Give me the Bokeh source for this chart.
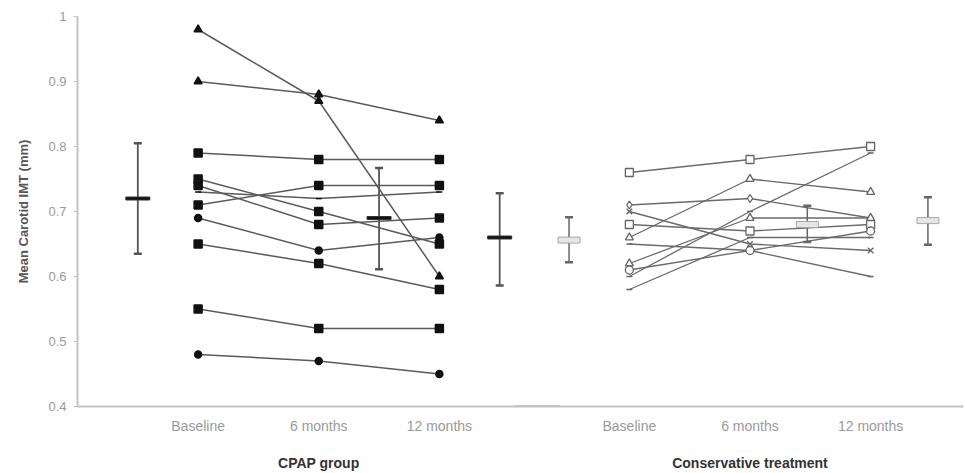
from bokeh.plotting import figure
from bokeh.models import Range1d, FixedTicker, LinearAxis
from bokeh.embed import file_html
from bokeh.resources import INLINE

# ---- data ----
timepoints = ["Baseline", "6 months", "12 months"]
groups = ["CPAP group", "Conservative treatment"]

cpap_x = [2, 4, 6]
cons_x = [9.15, 11.15, 13.15]
cpap_mean_x = [1, 5, 7]
cons_mean_x = [8.15, 12.1, 14.1]
group_x = [4, 11.15]

cpap_series = [
    [0.98, 0.87, 0.60],
    [0.90, 0.88, 0.84],
    [0.79, 0.78, 0.78],
    [0.75, 0.70, 0.65],
    [0.74, 0.68, 0.69],
    [0.73, 0.72, 0.73],
    [0.71, 0.74, 0.74],
    [0.69, 0.64, 0.66],
    [0.65, 0.62, 0.58],
    [0.55, 0.52, 0.52],
    [0.48, 0.47, 0.45],
]
cpap_markers = ["triangle", "triangle", "square", "square", "square", "dash",
                "square", "circle", "square", "square", "circle"]

cons_series = [
    [0.76, 0.78, 0.80],
    [0.71, 0.72, 0.69],
    [0.70, 0.65, 0.64],
    [0.68, 0.67, 0.68],
    [0.66, 0.75, 0.73],
    [0.65, 0.64, 0.60],
    [0.62, 0.69, 0.69],
    [0.61, 0.64, 0.67],
    [0.60, 0.70, 0.79],
    [0.58, 0.66, 0.66],
]
cons_markers = ["square", "diamond", "x", "square", "triangle", "dash",
                "triangle", "circle", "dash", "dash"]

cpap_mean = [0.72, 0.69, 0.66]
cpap_lo = [0.635, 0.611, 0.586]
cpap_hi = [0.805, 0.767, 0.728]

cons_mean = [0.656, 0.68, 0.686]
cons_lo = [0.622, 0.653, 0.649]
cons_hi = [0.691, 0.709, 0.722]

y_ticks = [0.4, 0.5, 0.6, 0.7, 0.8, 0.9, 1.0]

# ---- figure ----
FONT = "Liberation Sans"
p = figure(width=965, height=473, output_backend="svg", toolbar_location=None,
           x_range=Range1d(0, 14.69), y_range=Range1d(0.4, 1.0),
           min_border_left=77, min_border_right=2, min_border_top=16,
           min_border_bottom=67)
p.outline_line_color = None
p.grid.grid_line_color = None
p.background_fill_color = "white"

# y axis
p.yaxis.ticker = FixedTicker(ticks=y_ticks)
p.yaxis.major_label_overrides = {1.0: "1"}
p.yaxis.axis_line_color = "#c4c4c4"
p.yaxis.axis_line_width = 2
p.yaxis.major_tick_line_color = "#c4c4c4"
p.yaxis.major_tick_in = 0
p.yaxis.major_tick_out = 4
p.yaxis.minor_tick_line_color = None
p.yaxis.major_label_text_color = "#9a9a9a"
p.yaxis.major_label_text_font = FONT
p.yaxis.major_label_text_font_size = "13px"
p.yaxis.major_label_standoff = 7
p.yaxis.axis_label = "Mean Carotid IMT (mm)"
p.yaxis.axis_label_text_font = FONT
p.yaxis.axis_label_text_font_style = "bold"
p.yaxis.axis_label_text_font_size = "13px"
p.yaxis.axis_label_text_color = "#555555"
p.yaxis.axis_label_standoff = 14

# x axis (time points)
p.xaxis.ticker = FixedTicker(ticks=cpap_x + cons_x)
p.xaxis.major_label_overrides = {x: t for x, t in zip(cpap_x + cons_x, timepoints + timepoints)}
p.xaxis.axis_line_color = "#c4c4c4"
p.xaxis.axis_line_width = 2
p.xaxis.major_tick_line_color = None
p.xaxis.minor_tick_line_color = None
p.xaxis.major_label_text_color = "#9a9a9a"
p.xaxis.major_label_text_font = FONT
p.xaxis.major_label_text_font_size = "14px"
p.xaxis.major_label_standoff = 5

# second x axis (group names)
gaxis = LinearAxis(ticker=FixedTicker(ticks=group_x),
                   major_label_overrides={x: g for x, g in zip(group_x, groups)})
gaxis.axis_line_color = None
gaxis.major_tick_line_color = None
gaxis.minor_tick_line_color = None
gaxis.major_label_text_color = "#333333"
gaxis.major_label_text_font = FONT
gaxis.major_label_text_font_style = "bold"
gaxis.major_label_text_font_size = "14px"
gaxis.major_label_standoff = 12
p.add_layout(gaxis, "below")

# darker dash on the axis between the groups
p.segment(x0=[7.25], y0=[0.4], x1=[8.0], y1=[0.4], line_color="#8a8a8a", line_width=2)

LINE = "#5a5a5a"

# CPAP individual lines (filled black markers)
for ys, m in zip(cpap_series, cpap_markers):
    p.line(cpap_x, ys, line_color=LINE, line_width=1.5)
for ys, m in zip(cpap_series, cpap_markers):
    size = 8 if m in ("square", "triangle") else (7 if m == "circle" else 6)
    p.scatter(cpap_x, ys, marker=m, size=size, fill_color="#111111",
              line_color="#111111", line_width=1.5)

# Conservative individual lines (hollow markers)
for ys, m in zip(cons_series, cons_markers):
    p.line(cons_x, ys, line_color="#6a6a6a", line_width=1.3)
for ys, m in zip(cons_series, cons_markers):
    size = 8 if m != "dash" else 6
    p.scatter(cons_x, ys, marker=m, size=size, fill_color="white",
              line_color="#666666", line_width=1.3)

# CPAP mean +/- error bars
p.segment(x0=cpap_mean_x, y0=cpap_lo, x1=cpap_mean_x, y1=cpap_hi,
          line_color="#555555", line_width=1.8)
p.scatter(cpap_mean_x, cpap_lo, marker="dash", size=8, line_color="#555555", line_width=2.5)
p.scatter(cpap_mean_x, cpap_hi, marker="dash", size=8, line_color="#555555", line_width=2.5)
p.rect(cpap_mean_x, cpap_mean, width=24, height=3, width_units="screen",
       height_units="screen", fill_color="#111111", line_color="#333333", line_width=1)

# Conservative mean +/- error bars
p.segment(x0=cons_mean_x, y0=cons_lo, x1=cons_mean_x, y1=cons_hi,
          line_color="#666666", line_width=1.5)
p.scatter(cons_mean_x, cons_lo, marker="dash", size=8, line_color="#666666", line_width=2.5)
p.scatter(cons_mean_x, cons_hi, marker="dash", size=8, line_color="#666666", line_width=2.5)
p.rect(cons_mean_x, cons_mean, width=22, height=6, width_units="screen",
       height_units="screen", fill_color="#e6e6e6", line_color="#a8a8a8", line_width=1)

open("out.html", "w").write(file_html(p, INLINE))
